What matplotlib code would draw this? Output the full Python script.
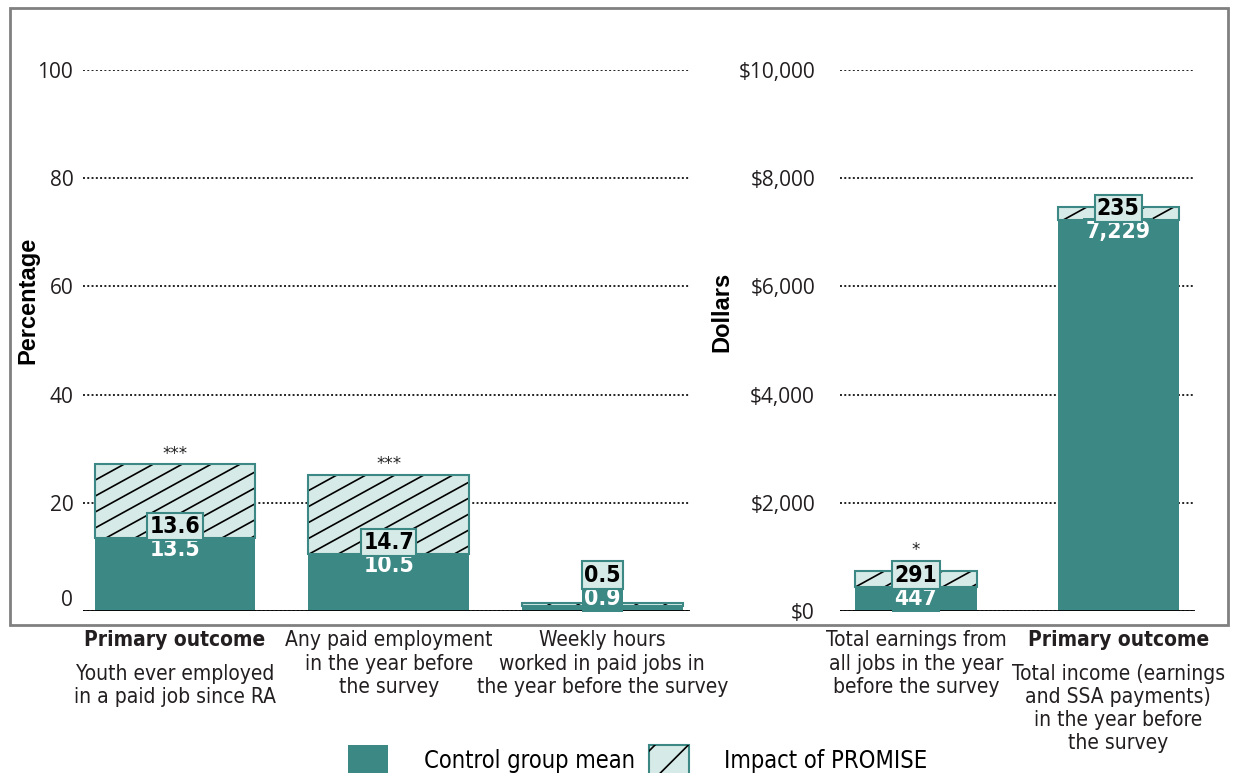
import numpy as np
import matplotlib.pyplot as plt
from matplotlib import font_manager
from matplotlib.patches import Patch, Rectangle
from matplotlib.lines import Line2D
from matplotlib.transforms import IdentityTransform
from matplotlib.legend_handler import HandlerTuple

# Datos del panel izquierdo (porcentaje / horas)
cats_left = ['Youth ever employed\nin a paid job since RA',
             'Any paid employment\nin the year before\nthe survey',
             'Weekly hours\nworked in paid jobs in\nthe year before the survey']
primary_left = [True, False, False]
ctrl_left = [13.5, 10.5, 0.9]
imp_left = [13.6, 14.7, 0.5]
stars_left = ['***', '***', '']
ticks_left = [0, 20, 40, 60, 80, 100]
ticklabels_left = ['0', '20', '40', '60', '80', '100']

# Datos del panel derecho (dolares)
cats_right = ['Total earnings from\nall jobs in the year\nbefore the survey',
              'Total income (earnings\nand SSA payments)\nin the year before\nthe survey']
primary_right = [False, True]
ctrl_right = [447, 7229]
imp_right = [291, 235]
stars_right = ['*', '']
ticks_right = [0, 2000, 4000, 6000, 8000, 10000]
ticklabels_right = ['$0', '$2,000', '$4,000', '$6,000', '$8,000', '$10,000']

teal = '#3c8884'
light = '#d6eae7'
plt.rcParams['hatch.color'] = 'black'
plt.rcParams['hatch.linewidth'] = 1.2

# buscar una fuente estrecha (tipo Arial Narrow)
narrow, stretch, fs = 'Liberation Sans', 'normal', 13.5
nombres = [(f.name, f.stretch) for f in font_manager.fontManager.ttflist]
for n, st in sorted(nombres, key=lambda t: 'Liberation' not in t[0]):
    if 'Narrow' in n or 'Condensed' in n or st in ('condensed', 'semi-condensed'):
        narrow, stretch, fs = n, st, 15
        break
txt = dict(family=narrow, fontstretch=stretch)

W, H = 1236, 773
fig = plt.figure(figsize=(W / 100, H / 100), dpi=100)


def px(x0, y0, x1, y1):
    return [x0 / W, 1 - y1 / H, (x1 - x0) / W, (y1 - y0) / H]


def hatch_bar(ax, x, bottom, height, width):
    fondo = ax.bar(x, height, width, bottom=bottom, color=light,
                   edgecolor='none', zorder=2)[0]
    (x0, y0), (x1, y1) = ax.transData.transform(
        [(x - width / 2, bottom), (x + width / 2, bottom + height)])
    s, paso = 0.55, 29
    alto = y1 - y0
    for c in np.arange(x0 - alto / s, x1 + paso, paso):
        ln = Line2D([c, c + alto / s], [y0, y1], color='black', lw=1.2,
                    transform=IdentityTransform(), zorder=2.5)
        ax.add_artist(ln)
        ln.set_clip_path(fondo)
    ax.bar(x, height, width, bottom=bottom, fill=False, edgecolor=teal,
           linewidth=1.5, zorder=3)


def panel(ax, cats, primary, ctrl, imp, stars, ticks, ticklabels, top, width, pad):
    ax.set_ylim(0, top)
    ax.set_yticks(ticks)
    ax.set_yticklabels(ticklabels, family='Open Sans', fontsize=15, color='#231f20')
    ax.tick_params(axis='y', length=0, pad=pad)
    ax.set_xticks([])
    for sp in ax.spines.values():
        sp.set_visible(False)
    ax.grid(axis='y', color='#222222', linestyle=(0, (1, 1.2)), linewidth=1.4)
    ax.set_axisbelow(True)
    ax.axhline(0, color='black', lw=2, zorder=4)
    xs = np.arange(len(cats))
    for i, x in enumerate(xs):
        ax.bar(x, ctrl[i], width, color=teal, zorder=2)
        hatch_bar(ax, x, ctrl[i], imp[i], width)
        lab_y = max(ctrl[i], top * 0.045)
        fmt = '{:,}' if isinstance(ctrl[i], int) else '{}'
        ax.text(x, lab_y, fmt.format(ctrl[i]), ha='center', va='top', color='white',
                fontsize=fs + 1.5, fontweight='bold', zorder=6, **txt,
                bbox=dict(boxstyle='square,pad=0.1', fc=teal, ec='none'))
        ax.text(x, lab_y, fmt.format(imp[i]), ha='center', va='bottom', color='black',
                fontsize=fs + 1.5, fontweight='bold', zorder=6, **txt,
                bbox=dict(boxstyle='square,pad=0.1', fc=light, ec=teal, lw=1.5))
        if stars[i]:
            star_y = max(ctrl[i] + imp[i], lab_y + top * 0.048)
            ax.annotate(stars[i], xy=(x, star_y), xytext=(0, 1),
                        textcoords='offset points', ha='center', va='bottom',
                        fontsize=12, color='#222222')
        # etiquetas de categoria
        off = -14
        if primary[i]:
            ax.annotate('Primary outcome', xy=(x, 0), xycoords=('data', 'axes fraction'),
                        xytext=(0, off), textcoords='offset points', ha='center', va='top',
                        fontsize=fs, fontweight='bold', color='#231f20', **txt)
            off = -38
        ax.annotate(cats[i], xy=(x, 0), xycoords=('data', 'axes fraction'),
                    xytext=(0, off), textcoords='offset points', ha='center', va='top',
                    fontsize=fs, color='#231f20', linespacing=1.2, **txt)


ax1 = fig.add_axes(px(83, 70, 690, 611))
ax1.set_xlim(-0.43, 2.41)
panel(ax1, cats_left, primary_left, ctrl_left, imp_left, stars_left,
      ticks_left, ticklabels_left, 100, 0.75, 7)
ax1.get_yticklabels()[0].set_va('bottom')

ax2 = fig.add_axes(px(840, 70, 1195, 611))
ax2.set_xlim(-0.376, 1.38)
panel(ax2, cats_right, primary_right, ctrl_right, imp_right, stars_right,
      ticks_right, ticklabels_right, 10000, 0.6, 18)

fig.text(28 / W, 1 - 300 / H, 'Percentage', rotation=90, ha='center', va='center',
         fontsize=17, fontweight='bold', family='Liberation Sans')
fig.text(722 / W, 1 - 312 / H, 'Dollars', rotation=90, ha='center', va='center',
         fontsize=17, fontweight='bold', family='Liberation Sans')

# marco gris
fig.add_artist(Rectangle((10 / W, 1 - 625 / H), 1218 / W, 617 / H, transform=fig.transFigure,
                         fill=False, edgecolor='#808080', linewidth=2))

# leyenda
h_ctrl = Patch(facecolor=teal, edgecolor='none')
h_imp = (Patch(facecolor=light, edgecolor=teal, linewidth=1.5),
         Patch(facecolor='none', hatch='/'))
fig.legend([h_ctrl, h_imp], ['Control group mean', 'Impact of PROMISE'],
           loc='lower center', bbox_to_anchor=(0.516, -0.03), ncol=2, frameon=False,
           handler_map={tuple: HandlerTuple(ndivide=1, pad=0)},
           prop={'size': fs + 2, 'family': narrow, 'stretch': stretch},
           handlelength=1.7, handleheight=1.6, columnspacing=0.6, handletextpad=1.5)

fig.savefig('out.png', dpi=100)
